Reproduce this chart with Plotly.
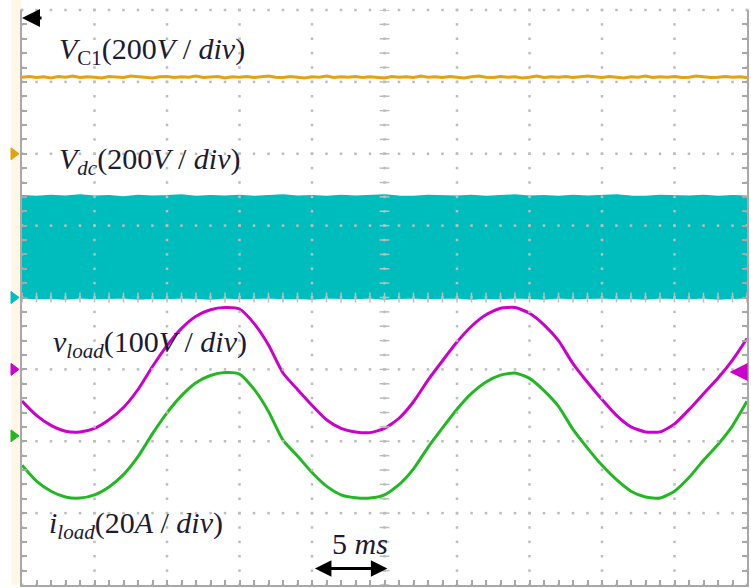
import plotly.graph_objects as go

# ---------------- data ----------------
t_ms = list(range(51))                      # time, ms (5 ms/div, 10 div)

# load voltage (V), 100 V/div, channel position -1 div
vload = [-44, -64, -78, -86, -87, -82, -70, -53, -28, 4,
         33, 57, 74, 83, 86, 84, 64, 34, -5, -28,
         -50, -70, -82, -87, -88, -82, -68, -45, -15, 12,
         38, 60, 76, 85, 86, 78, 62, 40, 8, -18,
         -42, -64, -80, -87, -87, -76, -56, -34, -12, 13, 43]

# load current (A), 20 A/div, channel position -1.925 div
iload = [-8.2, -12.6, -15.4, -17.0, -17.3, -16.4, -14.2, -10.8, -5.8, 0.6,
         6.4, 11.2, 14.8, 16.8, 17.6, 17.2, 13.0, 6.8, -1.2, -5.6,
         -10.2, -14.0, -16.4, -17.2, -17.3, -16.4, -13.6, -9.2, -3.2, 2.2,
         7.4, 11.8, 15.0, 16.9, 17.5, 16.0, 12.6, 8.2, 1.8, -3.4,
         -8.2, -12.2, -15.4, -17.0, -17.3, -15.4, -11.6, -6.8, -2.4, 2.8, 9.6]

# capacitor voltage VC1 (V), 200 V/div, position +2 div, sampled every 0.5 ms
t_vc1 = [i * 0.5 for i in range(101)]
vc1 = [213, 215, 212, 214, 211, 215, 213, 216, 212, 214,
       213, 211, 215, 213, 212, 216, 214, 213, 211, 214,
       215, 212, 214, 213, 216, 212, 213, 215, 211, 214,
       213, 215, 212, 214, 216, 213, 212, 215, 213, 211,
       214, 213, 216, 212, 214, 213, 215, 212, 214, 213,
       211, 215, 213, 214, 212, 216, 213, 214, 212, 215,
       213, 211, 214, 216, 213, 212, 215, 213, 214, 211,
       213, 216, 212, 214, 213, 215, 212, 213, 216, 214,
       212, 215, 213, 211, 214, 213, 216, 212, 214, 213,
       215, 212, 213, 216, 214, 212, 213, 215, 213, 214, 212]

# DC-link PWM band (V), 200 V/div, position 0 div : envelope edges
vdc_top = [283, 281, 284, 282, 285, 282, 283, 280, 284, 282,
           283, 285, 281, 283, 282, 284, 281, 283, 285, 282,
           283, 281, 284, 282, 283, 285, 282, 281, 284, 283,
           282, 284, 281, 283, 285, 282, 283, 281, 284, 282,
           283, 285, 282, 281, 284, 283, 282, 284, 281, 283, 282]
vdc_bot = [-1, -3, -2, -4, -1, -3, -2, -1, -4, -2,
           -3, -1, -2, -4, -1, -3, -2, -1, -3, -2,
           -4, -1, -2, -3, -1, -4, -2, -1, -3, -2,
           -1, -4, -2, -3, -1, -2, -4, -1, -3, -2,
           -1, -3, -2, -4, -1, -2, -3, -1, -4, -2, -1]

# channel settings: (volts or amps per div, position in div)
ch_scale = {"vc1": 200, "vdc": 200, "vload": 100, "iload": 20}
ch_pos = {"vc1": 2.0, "vdc": 0.0, "vload": -1.0, "iload": -1.925}

labels = [
    "<i>V</i><sub>C1</sub>(200<i>V</i> / <i>div</i>)",
    "<i>V</i><sub><i>dc</i></sub>(200<i>V</i> / <i>div</i>)",
    "<i>v</i><sub><i>load</i></sub>(100<i>V</i> / <i>div</i>)",
    "<i>i</i><sub><i>load</i></sub>(20<i>A</i> / <i>div</i>)",
]
time_label = "5 <i>ms</i>"

# ---------------- colours / styles ----------------
C_VC1 = "#E3A20F"
C_VDC = "#00BDBD"
C_VLOAD = "#CC00CC"
C_ILOAD = "#22B822"
C_GRID = "#BDBDBD"
C_TXT = "#1b1b33"
FONT = "Liberation Serif"

def to_div(vals, ch):
    return [ch_pos[ch] + v / ch_scale[ch] for v in vals]

fig = go.Figure()

# Vdc band
fig.add_trace(go.Scatter(x=t_ms, y=to_div(vdc_bot, "vdc"), mode="lines",
                         line=dict(color=C_VDC, width=1.5), hoverinfo="skip"))
fig.add_trace(go.Scatter(x=t_ms, y=to_div(vdc_top, "vdc"), mode="lines",
                         line=dict(color=C_VDC, width=1.5), fill="tonexty",
                         fillcolor=C_VDC, hoverinfo="skip"))
# VC1
fig.add_trace(go.Scatter(x=t_vc1, y=to_div(vc1, "vc1"), mode="lines",
                         line=dict(color=C_VC1, width=3), hoverinfo="skip"))
# vload / iload
fig.add_trace(go.Scatter(x=t_ms, y=to_div(vload, "vload"), mode="lines",
                         line=dict(color=C_VLOAD, width=3, shape="spline", smoothing=0.6),
                         hoverinfo="skip"))
fig.add_trace(go.Scatter(x=t_ms, y=to_div(iload, "iload"), mode="lines",
                         line=dict(color=C_ILOAD, width=3, shape="spline", smoothing=0.6),
                         hoverinfo="skip"))

# ---------------- graticule (dotted, drawn over the traces) ----------------
n_xdiv, n_ydiv, sub = 10, 8, 5
x_major = [5 * i for i in range(n_xdiv + 1)]
y_major = [-4 + i for i in range(n_ydiv + 1)]
y_fine = [-4 + i / sub for i in range(n_ydiv * sub + 1)]
x_fine = [i * 1.0 for i in range(n_xdiv * sub + 1)]
gx, gy = [], []
for xv in x_major:
    for yv in y_fine:
        gx.append(xv); gy.append(yv)
for yv in y_major:
    for xv in x_fine:
        gx.append(xv); gy.append(yv)
fig.add_trace(go.Scatter(x=gx, y=gy, mode="markers", cliponaxis=False,
                         marker=dict(symbol="square", size=2.5, color=C_GRID,
                                     line=dict(width=0)), hoverinfo="skip"))
# centre-line ticks
fig.add_trace(go.Scatter(x=[25] * len(y_fine), y=y_fine, mode="markers",
                         marker=dict(symbol="line-ew", size=7,
                                     line=dict(width=1.5, color=C_GRID)),
                         hoverinfo="skip"))
fig.add_trace(go.Scatter(x=x_fine, y=[0] * len(x_fine), mode="markers",
                         marker=dict(symbol="line-ns", size=7,
                                     line=dict(width=1.5, color=C_GRID)),
                         hoverinfo="skip"))

# ---------------- layout ----------------
fig.update_layout(
    width=751, height=588,
    margin=dict(l=22, r=4, t=10, b=3),
    paper_bgcolor="white", plot_bgcolor="white",
    showlegend=False,
    xaxis=dict(range=[0, 50], showgrid=False, zeroline=False,
               showline=True, linecolor="#A8A8A8", linewidth=2, mirror=False,
               ticks="inside", ticklen=5, tickwidth=1.5, tickcolor="#A8A8A8",
               tick0=0, dtick=1, showticklabels=False, fixedrange=True),
    yaxis=dict(range=[-4, 4], showgrid=False, zeroline=False,
               showline=True, linecolor="#A8A8A8", linewidth=2, mirror="ticks",
               ticks="inside", ticklen=5, tickwidth=1.5, tickcolor="#A8A8A8",
               tick0=-4, dtick=0.2, showticklabels=False, fixedrange=True),
)

# cream strip left of the graticule
fig.add_shape(type="rect", xref="paper", yref="paper",
              x0=-0.0145, x1=-0.0015, y0=0, y1=1.02,
              fillcolor="#FFF7E6", line=dict(width=0), layer="below")

# channel position markers (triangles) on the left
for ch, col in [("vc1", C_VC1), ("vdc", C_VDC), ("vload", C_VLOAD), ("iload", C_ILOAD)]:
    fig.add_shape(type="path", xref="paper", xsizemode="pixel", xanchor=0,
                  yref="y", ysizemode="pixel", yanchor=ch_pos[ch],
                  path="M -11 -6 L -3 0 L -11 6 Z",
                  fillcolor=col, line=dict(color=col, width=1))

# text labels
label_pos = [(2.4, 3.43), (2.4, 1.9), (2.0, -0.64), (1.7, -3.16)]
for txt, (xx, yy) in zip(labels, label_pos):
    fig.add_annotation(x=xx, y=yy, text=txt, showarrow=False, xanchor="left",
                       yanchor="middle", font=dict(family=FONT, size=30, color=C_TXT))
fig.add_annotation(x=23.3, y=-3.42, text=time_label, showarrow=False,
                   font=dict(family=FONT, size=30, color=C_TXT))

# 5 ms double arrow
fig.add_annotation(x=25.2, y=-3.77, ax=20.1, ay=-3.77, axref="x", ayref="y",
                   xref="x", yref="y", text="", showarrow=True,
                   arrowhead=2, arrowsize=1.1, arrowwidth=3, arrowcolor="black",
                   arrowside="end+start", startarrowhead=2, startarrowsize=1.1)
# trigger arrow top-left
fig.add_annotation(x=0.0, y=3.89, ax=1.45, ay=3.89, axref="x", ayref="y",
                   xref="x", yref="y", text="", showarrow=True,
                   arrowhead=2, arrowsize=1.2, arrowwidth=3, arrowcolor="black")
# magenta trigger-level arrow on the right
fig.add_annotation(x=48.8, y=-1.035, ax=50.0, ay=-1.035, axref="x", ayref="y",
                   xref="x", yref="y", text="", showarrow=True,
                   arrowhead=2, arrowsize=1.2, arrowwidth=3, arrowcolor=C_VLOAD)

fig.write_html("out.html", config={"displayModeBar": False},
               post_script="document.body.style.margin='0';")
